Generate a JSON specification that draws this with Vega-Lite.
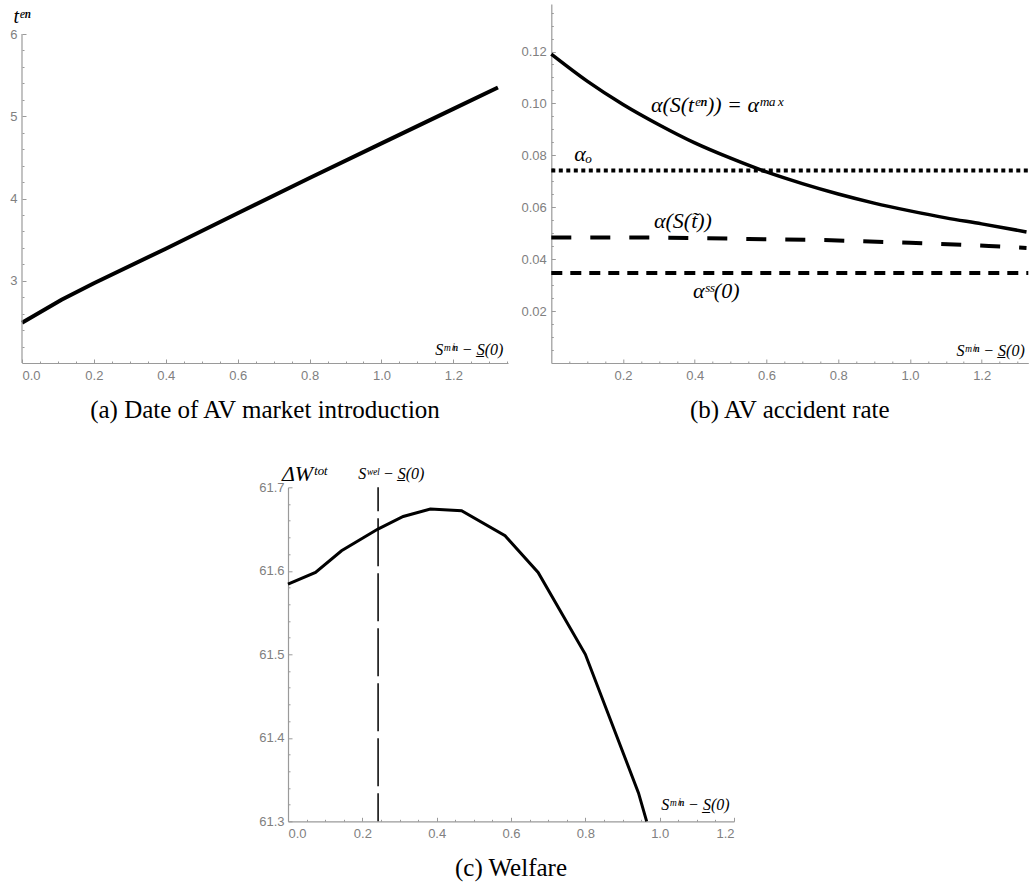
{
  "$schema": "https://vega.github.io/schema/vega-lite/v6.json",
  "autosize": {"type": "pad"},
  "padding": {"left": 9, "top": 4, "right": 0, "bottom": 0},
  "background": "white",
  "config": {
    "view": {"stroke": null},
    "axis": {"grid": false, "domainColor": "#9a9a9a", "tickColor": "#9a9a9a", "labelColor": "#808080", "labelFont": "Liberation Sans", "labelFontSize": 13, "domainWidth": 1.2, "tickWidth": 1},
    "title": {"font": "Liberation Serif", "fontSize": 25, "fontWeight": "normal", "color": "black", "orient": "bottom", "anchor": "middle", "offset": 16}
  },
  "datasets": {
    "aLine": [{"x": 0, "y": 2.49}, {"x": 0.11, "y": 2.77}, {"x": 0.2, "y": 2.97}, {"x": 0.4, "y": 3.39}, {"x": 0.6, "y": 3.82}, {"x": 0.8, "y": 4.25}, {"x": 1.0, "y": 4.67}, {"x": 1.2, "y": 5.09}, {"x": 1.324, "y": 5.35}],
    "aAxis": [{"x": 0, "y": 2, "y2": 6}],
    "bMax": [{"x": 0, "y": 0.119}, {"x": 0.1, "y": 0.1086}, {"x": 0.2, "y": 0.0996}, {"x": 0.3, "y": 0.0918}, {"x": 0.4, "y": 0.0848}, {"x": 0.5, "y": 0.0789}, {"x": 0.6, "y": 0.0736}, {"x": 0.7, "y": 0.0691}, {"x": 0.8, "y": 0.0651}, {"x": 0.9, "y": 0.0616}, {"x": 1.0, "y": 0.0586}, {"x": 1.1, "y": 0.0559}, {"x": 1.2, "y": 0.0536}, {"x": 1.325, "y": 0.0505}],
    "bTilde": [{"x": 0, "y": 0.0483}, {"x": 0.3, "y": 0.0483}, {"x": 0.55, "y": 0.0478}, {"x": 0.78, "y": 0.0473}, {"x": 1.0, "y": 0.0463}, {"x": 1.22, "y": 0.0451}, {"x": 1.325, "y": 0.0443}],
    "bAlphaO": [{"x": 0, "y": 0.0742}, {"x": 1.33, "y": 0.0742}],
    "bSS": [{"x": 0, "y": 0.0347}, {"x": 1.33, "y": 0.0347}],
    "cW": [{"x": 0, "y": 61.584}, {"x": 0.074, "y": 61.598}, {"x": 0.144, "y": 61.624}, {"x": 0.242, "y": 61.65}, {"x": 0.31, "y": 61.665}, {"x": 0.383, "y": 61.674}, {"x": 0.467, "y": 61.672}, {"x": 0.584, "y": 61.642}, {"x": 0.673, "y": 61.598}, {"x": 0.8, "y": 61.5}, {"x": 0.943, "y": 61.334}, {"x": 0.965, "y": 61.3}],
    "cWel": [{"x": 0.2424, "y": 61.7, "y2": 61.3}]
  },
  "bounds": "flush",
  "spacing": 483.3,
  "vconcat": [
    {
      "bounds": "flush",
      "spacing": 43.3,
      "hconcat": [
        {
          "width": 486,
          "height": 359,
          "title": {"text": "(a) Date of AV market introduction"},
          "resolve": {"axis": {"x": "independent", "y": "independent"}},
          "layer": [
            {
              "data": {"name": "aLine"},
              "mark": {"type": "line", "color": "black", "strokeWidth": 4},
              "encoding": {
                "x": {"field": "x", "type": "quantitative", "title": null, "scale": {"domain": [0, 1.352], "nice": false, "zero": false}, "axis": {"orient": "bottom", "values": [0, 0.2, 0.4, 0.6, 0.8, 1.0, 1.2], "format": ".1f", "tickSize": -4, "labelPadding": 10}},
                "y": {"field": "y", "type": "quantitative", "title": null, "scale": {"domain": [2, 6.365], "nice": false, "zero": false}, "axis": {"orient": "left", "values": [3, 4, 5, 6], "format": "d", "domain": false, "tickSize": -4, "labelPadding": 9}}
              }
            },
            {
              "data": {"name": "aAxis"},
              "mark": {"type": "rule", "color": "#9a9a9a", "strokeWidth": 1.2},
              "encoding": {
                "x": {"field": "x", "type": "quantitative", "title": null, "scale": {"domain": [0, 1.352], "nice": false, "zero": false}, "axis": {"orient": "bottom", "values": [0.05, 0.1, 0.15, 0.25, 0.3, 0.35, 0.45, 0.5, 0.55, 0.65, 0.7, 0.75, 0.85, 0.9, 0.95, 1.05, 1.1, 1.15, 1.25, 1.3, 1.35], "labels": false, "domain": false, "tickSize": -2}},
                "y": {"field": "y", "type": "quantitative", "title": null, "scale": {"domain": [2, 6.365], "nice": false, "zero": false}, "axis": {"orient": "left", "values": [2.2, 2.4, 2.6, 2.8, 3.2, 3.4, 3.6, 3.8, 4.2, 4.4, 4.6, 4.8, 5.2, 5.4, 5.6, 5.8], "labels": false, "domain": false, "tickSize": -2}},
                "y2": {"field": "y2"}
              }
            },
            {
              "data": {"values": [{"x": 0, "y": 6.134, "label": "tᵉⁿ"}]},
              "mark": {"type": "text", "font": "Liberation Serif", "fontStyle": "italic", "fontSize": 20, "align": "center", "baseline": "alphabetic", "color": "black"},
              "encoding": {
                "x": {"field": "x", "type": "quantitative", "scale": {"domain": [0, 1.352], "nice": false, "zero": false}, "axis": null},
                "y": {"field": "y", "type": "quantitative", "scale": {"domain": [2, 6.365], "nice": false, "zero": false}, "axis": null},
                "text": {"field": "label"}
              }
            },
            {
              "data": {"values": [{"x": 1.339, "y": 2.1, "label": "Sᵐⁱⁿ − S̲(0)"}]},
              "mark": {"type": "text", "font": "Liberation Serif", "fontStyle": "italic", "fontSize": 16, "align": "right", "baseline": "alphabetic", "color": "black"},
              "encoding": {
                "x": {"field": "x", "type": "quantitative", "scale": {"domain": [0, 1.352], "nice": false, "zero": false}, "axis": null},
                "y": {"field": "y", "type": "quantitative", "scale": {"domain": [2, 6.365], "nice": false, "zero": false}, "axis": null},
                "text": {"field": "label"}
              }
            }
          ]
        },
        {
          "width": 477,
          "height": 359,
          "title": {"text": "(b) AV accident rate"},
          "resolve": {"axis": {"x": "independent", "y": "independent"}},
          "layer": [
            {
              "data": {"name": "bMax"},
              "mark": {"type": "line", "color": "black", "strokeWidth": 3.5, "interpolate": "monotone"},
              "encoding": {
                "x": {"field": "x", "type": "quantitative", "title": null, "scale": {"domain": [0, 1.33], "nice": false, "zero": false}, "axis": {"orient": "bottom", "values": [0.2, 0.4, 0.6, 0.8, 1.0, 1.2], "format": ".1f", "tickSize": -4, "labelPadding": 10}},
                "y": {"field": "y", "type": "quantitative", "title": null, "scale": {"domain": [0, 0.1383], "nice": false, "zero": false}, "axis": {"orient": "left", "values": [0.02, 0.04, 0.06, 0.08, 0.1, 0.12], "format": ".2f", "tickSize": -4, "labelPadding": 9}}
              }
            },
            {
              "data": {"name": "bAlphaO"},
              "mark": {"type": "line", "color": "black", "strokeWidth": 4, "strokeDash": [4, 3.5]},
              "encoding": {
                "x": {"field": "x", "type": "quantitative", "title": null, "scale": {"domain": [0, 1.33], "nice": false, "zero": false}, "axis": {"orient": "bottom", "values": [0.05, 0.1, 0.15, 0.25, 0.3, 0.35, 0.45, 0.5, 0.55, 0.65, 0.7, 0.75, 0.85, 0.9, 0.95, 1.05, 1.1, 1.15, 1.25, 1.3], "labels": false, "domain": false, "tickSize": -2}},
                "y": {"field": "y", "type": "quantitative", "title": null, "scale": {"domain": [0, 0.1383], "nice": false, "zero": false}, "axis": {"orient": "left", "values": [0.005, 0.01, 0.015, 0.025, 0.03, 0.035, 0.045, 0.05, 0.055, 0.065, 0.07, 0.075, 0.085, 0.09, 0.095, 0.105, 0.11, 0.115, 0.125, 0.13, 0.135], "labels": false, "domain": false, "tickSize": -2}}
              }
            },
            {
              "data": {"name": "bTilde"},
              "mark": {"type": "line", "color": "black", "strokeWidth": 4, "strokeDash": [20, 19]},
              "encoding": {
                "x": {"field": "x", "type": "quantitative", "scale": {"domain": [0, 1.33], "nice": false, "zero": false}, "axis": null},
                "y": {"field": "y", "type": "quantitative", "scale": {"domain": [0, 0.1383], "nice": false, "zero": false}, "axis": null}
              }
            },
            {
              "data": {"name": "bSS"},
              "mark": {"type": "line", "color": "black", "strokeWidth": 4, "strokeDash": [11, 8]},
              "encoding": {
                "x": {"field": "x", "type": "quantitative", "scale": {"domain": [0, 1.33], "nice": false, "zero": false}, "axis": null},
                "y": {"field": "y", "type": "quantitative", "scale": {"domain": [0, 0.1383], "nice": false, "zero": false}, "axis": null}
              }
            },
            {
              "data": {"values": [{"x": 0.462, "y": 0.0968, "label": "α(S(tᵉⁿ)) = αᵐᵃˣ"}, {"x": 0.089, "y": 0.0778, "label": "αₒ"}, {"x": 0.367, "y": 0.0519, "label": "α(S(t̃))"}, {"x": 0.46, "y": 0.025, "label": "αˢˢ(0)"}]},
              "mark": {"type": "text", "font": "Liberation Serif", "fontStyle": "italic", "fontSize": 22, "align": "center", "baseline": "alphabetic", "color": "black"},
              "encoding": {
                "x": {"field": "x", "type": "quantitative", "scale": {"domain": [0, 1.33], "nice": false, "zero": false}, "axis": null},
                "y": {"field": "y", "type": "quantitative", "scale": {"domain": [0, 0.1383], "nice": false, "zero": false}, "axis": null},
                "text": {"field": "label"}
              }
            },
            {
              "data": {"values": [{"x": 1.32, "y": 0.0028, "label": "Sᵐⁱⁿ − S̲(0)"}]},
              "mark": {"type": "text", "font": "Liberation Serif", "fontStyle": "italic", "fontSize": 16, "align": "right", "baseline": "alphabetic", "color": "black"},
              "encoding": {
                "x": {"field": "x", "type": "quantitative", "scale": {"domain": [0, 1.33], "nice": false, "zero": false}, "axis": null},
                "y": {"field": "y", "type": "quantitative", "scale": {"domain": [0, 0.1383], "nice": false, "zero": false}, "axis": null},
                "text": {"field": "label"}
              }
            }
          ]
        }
      ]
    },
    {
      "bounds": "flush",
      "spacing": 0,
      "hconcat": [
        {
          "width": 266,
          "height": 334,
          "data": {"values": [{"t": ""}]},
          "mark": {"type": "text"},
          "encoding": {"text": {"field": "t"}}
        },
        {
          "width": 446,
          "height": 334,
          "title": {"text": "(c) Welfare"},
          "resolve": {"axis": {"x": "independent", "y": "independent"}},
          "layer": [
            {
              "data": {"name": "cW"},
              "mark": {"type": "line", "color": "black", "strokeWidth": 3},
              "encoding": {
                "x": {"field": "x", "type": "quantitative", "title": null, "scale": {"domain": [0, 1.2], "nice": false, "zero": false}, "axis": {"orient": "bottom", "values": [0, 0.2, 0.4, 0.6, 0.8, 1.0, 1.2], "format": ".1f", "tickSize": -4, "labelPadding": 10}},
                "y": {"field": "y", "type": "quantitative", "title": null, "scale": {"domain": [61.3, 61.7], "nice": false, "zero": false}, "axis": {"orient": "left", "values": [61.3, 61.4, 61.5, 61.6, 61.7], "format": ".1f", "tickSize": -4, "labelPadding": 8}}
              }
            },
            {
              "data": {"name": "cWel"},
              "mark": {"type": "rule", "color": "black", "strokeWidth": 1.5, "strokeDash": [48, 7], "strokeDashOffset": 24},
              "encoding": {
                "x": {"field": "x", "type": "quantitative", "title": null, "scale": {"domain": [0, 1.2], "nice": false, "zero": false}, "axis": {"orient": "bottom", "values": [0.05, 0.1, 0.15, 0.25, 0.3, 0.35, 0.45, 0.5, 0.55, 0.65, 0.7, 0.75, 0.85, 0.9, 0.95, 1.05, 1.1, 1.15], "labels": false, "domain": false, "tickSize": -2}},
                "y": {"field": "y", "type": "quantitative", "title": null, "scale": {"domain": [61.3, 61.7], "nice": false, "zero": false}, "axis": {"orient": "left", "values": [61.32, 61.34, 61.36, 61.38, 61.42, 61.44, 61.46, 61.48, 61.52, 61.54, 61.56, 61.58, 61.62, 61.64, 61.66, 61.68], "labels": false, "domain": false, "tickSize": -2}},
                "y2": {"field": "y2"}
              }
            },
            {
              "data": {"values": [{"x": 0.044, "y": 61.708, "label": "ΔWᵗᵒᵗ"}]},
              "mark": {"type": "text", "font": "Liberation Serif", "fontStyle": "italic", "fontSize": 22, "align": "center", "baseline": "alphabetic", "color": "black"},
              "encoding": {
                "x": {"field": "x", "type": "quantitative", "scale": {"domain": [0, 1.2], "nice": false, "zero": false}, "axis": null},
                "y": {"field": "y", "type": "quantitative", "scale": {"domain": [61.3, 61.7], "nice": false, "zero": false}, "axis": null},
                "text": {"field": "label"}
              }
            },
            {
              "data": {"values": [{"x": 0.278, "y": 61.71, "label": "Sʷᵉˡ − S̲(0)"}]},
              "mark": {"type": "text", "font": "Liberation Serif", "fontStyle": "italic", "fontSize": 16, "align": "center", "baseline": "alphabetic", "color": "black"},
              "encoding": {
                "x": {"field": "x", "type": "quantitative", "scale": {"domain": [0, 1.2], "nice": false, "zero": false}, "axis": null},
                "y": {"field": "y", "type": "quantitative", "scale": {"domain": [61.3, 61.7], "nice": false, "zero": false}, "axis": null},
                "text": {"field": "label"}
              }
            },
            {
              "data": {"values": [{"x": 1.188, "y": 61.313, "label": "Sᵐⁱⁿ − S̲(0)"}]},
              "mark": {"type": "text", "font": "Liberation Serif", "fontStyle": "italic", "fontSize": 16, "align": "right", "baseline": "alphabetic", "color": "black"},
              "encoding": {
                "x": {"field": "x", "type": "quantitative", "scale": {"domain": [0, 1.2], "nice": false, "zero": false}, "axis": null},
                "y": {"field": "y", "type": "quantitative", "scale": {"domain": [61.3, 61.7], "nice": false, "zero": false}, "axis": null},
                "text": {"field": "label"}
              }
            }
          ]
        }
      ]
    }
  ]
}
